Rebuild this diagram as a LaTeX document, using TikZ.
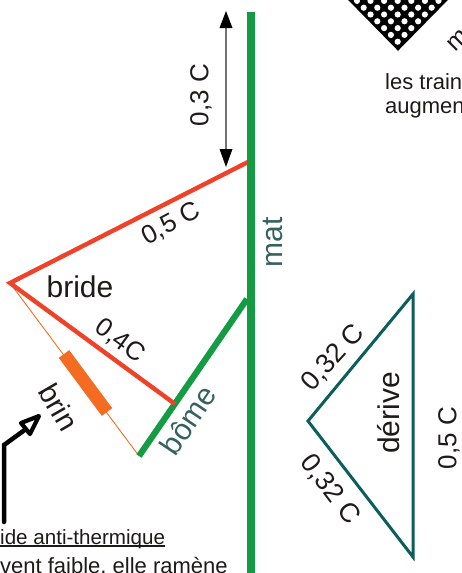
\documentclass[tikz,border=0pt]{standalone}
\usepackage{fontspec}
\setmainfont{Liberation Sans}
\usetikzlibrary{arrows.meta}
\definecolor{mastgreen}{HTML}{169B45}
\definecolor{redline}{HTML}{EE4229}
\definecolor{orangeline}{HTML}{F36C21}
\definecolor{teal}{HTML}{0B5E5C}
\definecolor{slate}{HTML}{35615F}
\definecolor{ink}{HTML}{1E1A18}
\tikzset{
  spar/.style={draw=mastgreen,line width=#1},
  bridle/.style={draw=redline,line width=4.4pt,line join=miter},
  lbl/.style={inner sep=0pt,text=ink,font=\fontsize{#1}{#1}\selectfont},
  lblteal/.style={inner sep=0pt,text=slate,font=\fontsize{#1}{#1}\selectfont},
  para/.style={inner sep=0pt,anchor=base west,text=ink,font=\fontsize{#1}{#1}\selectfont}
}
\begin{document}
\begin{tikzpicture}[x=1pt,y=-1pt]
\useasboundingbox (0,0) rectangle (462,573);
\clip (0,0) rectangle (462,573);
% perforated diamond
\coordinate (dl) at (346,-4);
\coordinate (da) at (398,49);
\coordinate (dr) at (450,-4);
\begin{scope}
  \clip (dl) -- (da) -- (dr) -- cycle;
  \fill[black] (dl) -- (da) -- (dr) -- cycle;
  \foreach \k in {0,...,6}{
    \foreach \j in {0,...,\k}{
      \fill[white] ({397.7-6.8*\k+13.6*\j},{41.7-6.8*\k}) circle (3.1);
    }
  }
\end{scope}
\draw[line width=2.5pt,line join=miter] (dl) -- (da) -- (dr);
\node[lbl=25,rotate=45] (mtxt) at (458,40) {m};
\node[para=22] (t1) at (385,89) {les train};
\node[para=22] (t2) at (385,113) {augmen};
% geometry points
\coordinate (mtop) at (251,12);
\coordinate (mbot) at (251,578);
\coordinate (rtop) at (248,162);
\coordinate (rapex) at (10,283);
\coordinate (rend) at (175,404);
\coordinate (btop) at (247,299);
\coordinate (bbot) at (139,456);
\coordinate (s1) at (64,354);
\coordinate (s2) at (107,412);
\coordinate (a1) at (226,11);
\coordinate (a2) at (226,167);
% rigging
\draw[orangeline,line width=0.9pt] (rapex) -- (bbot);
\draw[orangeline,line width=13pt] (s1) -- (s2);
\draw[spar=6.2pt] (btop) -- (bbot);
\draw[bridle] (rtop) -- (rapex) -- (rend);
\draw[spar=8pt] (mtop) -- (mbot);
% dimension arrow
\draw[draw=black!55,line width=1.4pt] (226,25) -- (226,152);
\fill[black] (a1) -- (232.5,28) -- (219.5,28) -- cycle;
\fill[black] (a2) -- (232.5,149) -- (219.5,149) -- cycle;
% derive triangle
\coordinate (d1) at (413,294);
\coordinate (d2) at (308,421);
\coordinate (d3) at (413,557);
\draw[teal,line width=3pt,line join=miter] (d1) -- (d2) -- (d3) -- cycle;
% labels
\node[lbl=26,rotate=90] (l03) at (201,95) {0,3 C};
\node[lbl=26,rotate=28] (l05) at (171,224) {0,5 C};
\node[lblteal=30,rotate=90] (lmat) at (273,242) {mat};
\node[lbl=30] (lbride) at (80,287) {bride};
\node[lbl=26,rotate=-36] (l04) at (120,341) {0,4C};
\node[lbl=29,rotate=-60] (lbrin) at (59,407) {brin};
\node[lblteal=30,rotate=56] (lbome) at (188,420) {bôme};
\node[lbl=27,rotate=48] (l32a) at (333,358) {0,32 C};
\node[lbl=27,rotate=-53] (l32b) at (330,490) {0,32 C};
\node[lbl=30,rotate=90] (lder) at (389,413) {dérive};
\node[lbl=26,rotate=90] (l5) at (449,438) {0,5 C};
% black bent arrow
\coordinate (k1) at (4,522);
\coordinate (k2) at (4,445);
\coordinate (k3) at (26,429);
\draw[black,line width=4.5pt,line cap=round] (k1) -- (k2) -- (k3);
\draw[black,fill=white,line width=4.2pt,line join=round] (39,416) -- (21,423) -- (30,434) -- cycle;
% bottom text
\node[para=20.6] (t3) at (0,544) {ide anti-thermique};
\draw[ink,line width=1.2pt] ([yshift=-2pt]t3.base west) -- ([yshift=-2pt]t3.base east);
\node[para=22] (t4) at (0,573) {vent faible, elle ramène};
\end{tikzpicture}
\end{document}
